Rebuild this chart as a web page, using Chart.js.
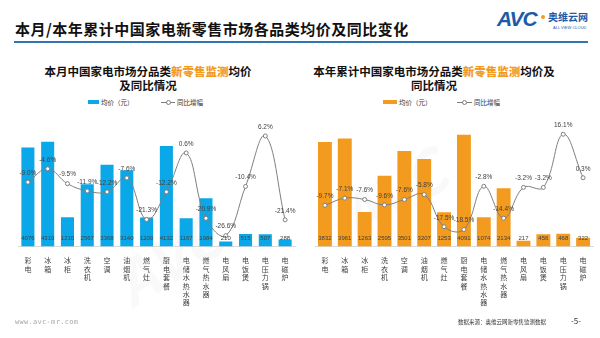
<!DOCTYPE html>
<html>
<head>
<meta charset="utf-8">
<script src="https://cdn.jsdelivr.net/npm/chart.js@4.4.1/dist/chart.umd.min.js"></script>
<style>
  html, body { margin: 0; padding: 0; background: #fff; }
  #page { position: relative; width: 600px; height: 338px; overflow: hidden; background: #fff;
          font-family: "Noto Sans CJK SC", "Noto Sans", sans-serif; color: #1a1a1a; }
  .abs { position: absolute; white-space: nowrap; }
  .title { left: 15px; top: 20px; font-size: 15px; line-height: 18px; font-weight: bold; color: #111; letter-spacing: 0.5px; }
  .rule { left: 14px; top: 41px; width: 574px; height: 2px; background: #2f74b5; }
  .sub { font-size: 11.5px; line-height: 13.5px; font-weight: bold; text-align: center; color: #111; }
  .sub b { color: #f39b1f; }
  .leg { font-size: 6.5px; line-height: 8px; color: #333; }
  .wm { color: rgba(0,0,0,0.025); font-weight: bold; transform-origin: left top; }
  canvas { position: absolute; }
</style>
</head>
<body>
<div id="page">
  <!-- watermarks -->
  <div class="abs wm" style="left:95px;top:250px;font-size:60px;font-style:italic;transform:rotate(-32deg)">AVC</div>
  <div class="abs wm" style="left:200px;top:175px;font-size:30px;transform:rotate(-32deg)">奥维云网</div>
  <div class="abs wm" style="left:320px;top:185px;font-size:60px;font-style:italic;transform:rotate(-32deg)">AVC</div>
  <div class="abs wm" style="left:425px;top:110px;font-size:30px;transform:rotate(-32deg)">奥维云网</div>

  <div class="abs title">本月/本年累计中国家电新零售市场各品类均价及同比变化</div>
  <div class="abs rule"></div>

  <!-- logo -->
  <div class="abs" style="left:497px;top:7px;font-family:'Liberation Sans',Arial,sans-serif;font-size:21px;font-weight:bold;font-style:italic;color:#1d5aa8;letter-spacing:-1px">AVC</div>
  <div class="abs" style="left:541px;top:15px;width:4px;height:4px;border-radius:2px;background:#f39b1f"></div>
  <div class="abs" style="left:548px;top:11px;font-size:10px;line-height:12px;font-weight:bold;color:#1d5aa8">奥维云网</div>
  <div class="abs" style="left:553px;top:25px;font-size:4px;line-height:5px;color:#1d5aa8;font-family:'Liberation Sans',sans-serif">ALL VIEW CLOUD</div>

  <!-- sub titles -->
  <div class="abs sub" style="left:0;width:296px;top:65px">本月中国家电市场分品类<b>新零售监测</b>均价<br>及同比情况</div>
  <div class="abs sub" style="left:300px;width:268px;top:65px">本年累计中国家电市场分品类<b>新零售监测</b>均价及<br>同比情况</div>

  <!-- legends -->
  <div class="abs" style="left:88px;top:100px;width:11px;height:4px;background:#0aa8e8"></div>
  <div class="abs leg" style="left:101px;top:98px">均价（元）</div>
  <div class="abs" style="left:161px;top:102px;width:14px;height:1px;background:#7f7f7f"></div>
  <div class="abs" style="left:165.5px;top:100px;width:3px;height:3px;border:1px solid #7f7f7f;border-radius:50%;background:#fff"></div>
  <div class="abs leg" style="left:177px;top:98px">同比增幅</div>

  <div class="abs" style="left:383px;top:100px;width:14px;height:4px;background:#f39b1f"></div>
  <div class="abs leg" style="left:399px;top:98px">均价（元）</div>
  <div class="abs" style="left:457px;top:102px;width:15px;height:1px;background:#7f7f7f"></div>
  <div class="abs" style="left:462px;top:100px;width:3px;height:3px;border:1px solid #7f7f7f;border-radius:50%;background:#fff"></div>
  <div class="abs leg" style="left:474px;top:98px">同比增幅</div>

  <canvas id="chartMonth" width="300" height="243" style="left:0;top:95px;width:300px;height:243px"></canvas>
  <canvas id="chartYtd" width="300" height="243" style="left:300px;top:95px;width:300px;height:243px"></canvas>

  <!-- footer -->
  <div class="abs" style="left:15px;top:318px;font-family:'DejaVu Sans Mono',monospace;font-size:7px;line-height:9px;color:#a6a6a6;letter-spacing:0.3px">www.avc-mr.com</div>
  <div class="abs" style="left:458px;top:318px;font-size:5.5px;line-height:9px;color:#333">数据来源：奥维云网新零售监测数据</div>
  <div class="abs" style="left:571px;top:316px;font-size:8px;line-height:10px;color:#333">-5-</div>
</div>

<script>
  // --- Data ---
  const categories = ['彩电', '冰箱', '冰柜', '洗衣机', '空调', '油烟机', '燃气灶', '厨电套餐',
                      '电储水热水器', '燃气热水器', '电风扇', '电饭煲', '电压力锅', '电磁炉'];
  const monthPrice = [4076, 4310, 1210, 2567, 3368, 3140, 1200, 4132, 1167, 1984, 210, 515, 507, 288];
  const monthYoY = [-9.0, -4.6, -9.5, -11.9, -12.2, -7.6, -21.3, -12.2, 0.6, -20.9, -26.6, -10.4, 6.2, -21.4];
  const ytdPrice = [3832, 3961, 1263, 2595, 3501, 3207, 1253, 4091, 1074, 2134, 217, 456, 468, 322];
  const ytdYoY = [-9.7, -7.1, -7.6, -9.6, -7.6, -5.8, -17.5, -18.5, -2.8, -14.4, -3.2, -3.2, 16.1, 0.3];

  // vertical labels: one character per line
  const verticalLabels = categories.map(c => c.split(''));

  // draws price inside the bar foot and the % above each point
  const valueLabels = {
    id: 'valueLabels',
    afterDatasetsDraw(chart) {
      const ctx = chart.ctx;
      const bars = chart.getDatasetMeta(0);
      const pts = chart.getDatasetMeta(1);
      const bottom = chart.chartArea.bottom;
      ctx.save();
      ctx.fillStyle = '#404040';
      ctx.textAlign = 'center';
      ctx.textBaseline = 'middle';
      ctx.font = '6px "Liberation Sans", Arial, sans-serif';
      bars.data.forEach((bar, i) => {
        ctx.fillText(String(chart.data.datasets[0].data[i]), bar.x, bottom - 8);
      });
      ctx.font = '6.5px "Liberation Sans", Arial, sans-serif';
      pts.data.forEach((pt, i) => {
        ctx.fillText(chart.data.datasets[1].data[i].toFixed(1) + '%', pt.x, pt.y - 9);
      });
      ctx.restore();
    }
  };

  const buildChart = (id, prices, yoy, color, barPct, pad, yoyMin, yoyMax) => {
    return new Chart(document.getElementById(id), {
      data: {
        labels: verticalLabels,
        datasets: [
          {
            type: 'bar',
            data: prices,
            backgroundColor: color,
            yAxisID: 'yPrice',
            categoryPercentage: 1,
            barPercentage: barPct,
            order: 2
          },
          {
            type: 'line',
            data: yoy,
            yAxisID: 'yYoY',
            borderColor: '#7f7f7f',
            borderWidth: 1,
            tension: 0.4,
            pointRadius: 2,
            pointBackgroundColor: '#fff',
            pointBorderColor: '#7f7f7f',
            pointBorderWidth: 1,
            clip: false,
            order: 1
          }
        ]
      },
      options: {
        responsive: false,
        animation: false,
        layout: { padding: pad },
        plugins: { legend: { display: false }, tooltip: { enabled: false } },
        scales: {
          x: {
            grid: { display: false },
            border: { display: true, color: '#d9d9d9', width: 1 },
            ticks: {
              color: '#404040',
              padding: 2,
              maxRotation: 0,
              autoSkip: false,
              font: { family: '"Noto Sans CJK SC", sans-serif', size: 7, lineHeight: 1.2 }
            }
          },
          yPrice: { display: false, min: 0, max: 5000 },
          yYoY: { display: false, min: yoyMin, max: yoyMax }
        }
      },
      plugins: [valueLabels]
    });
  };

  buildChart('chartMonth', monthPrice, monthYoY, '#0aa8e8', 0.66,
             { left: 18, right: 4.6, top: 30, bottom: 29 }, -30.2, 9.8);
  buildChart('chartYtd', ytdPrice, ytdYoY, '#f39b1f', 0.7,
             { left: 15, right: 7, top: 15, bottom: 29 }, -24.7, 24.9);
</script>
</body>
</html>
